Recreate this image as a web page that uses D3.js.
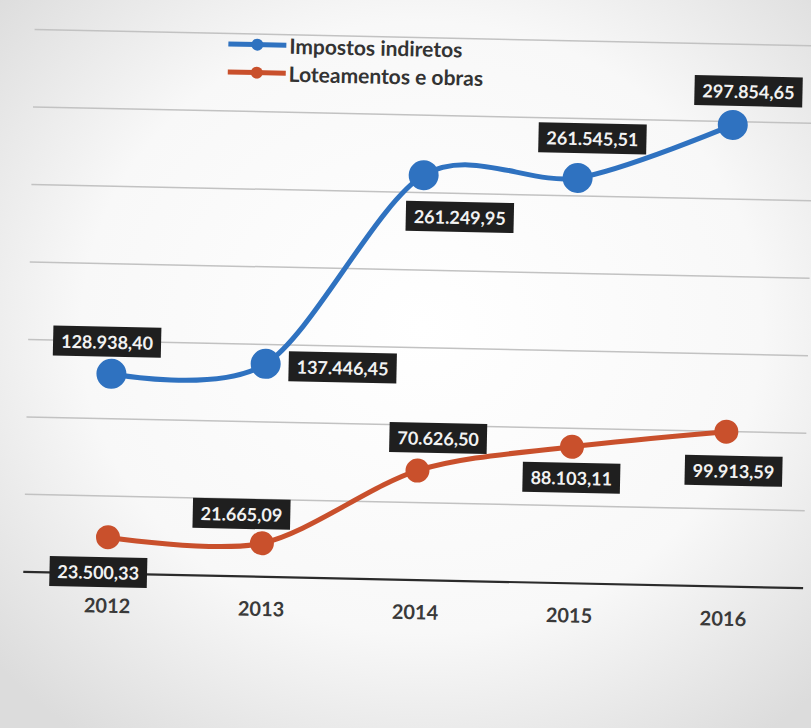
<!DOCTYPE html>
<html><head><meta charset="utf-8">
<script src="https://cdn.jsdelivr.net/npm/d3@7"></script>
<style>
html,body{margin:0;padding:0;background:#e4e4e4;}
svg{display:block;}
</style></head>
<body>
<svg id="chart" width="811" height="728"></svg>
<script>
// ---- data ----
const years = ["2012", "2013", "2014", "2015", "2016"];
const impostosIndiretos = [128938.40, 137446.45, 261249.95, 261545.51, 297854.65];
const loteamentosObras = [23500.33, 21665.09, 70626.50, 88103.11, 99913.59];
const seriesNames = ["Impostos indiretos", "Loteamentos e obras"];
const gridTicks = [0, 50000, 100000, 150000, 200000, 250000, 300000, 350000];

// ---- layout / style ----
const W = 811, H = 728;
const colors = ["#2f72c0", "#c9502c"];
const radii = [15, 12];
// label box offsets from each point [dx, dy]
const labelOffsets = [
  [[-5, -32], [77, 2], [37, 41], [14, -40], [15, -34]],
  [[-9, 35], [-21, -29], [20, -33], [0, 31], [8, 39]]
];

const fmt = v => {
  const s = v.toFixed(2).split(".");
  return s[0].replace(/\B(?=(\d{3})+(?!\d))/g, ".") + "," + s[1];
};

const svg = d3.select("#chart");
const defs = svg.append("defs");
const rg = defs.append("radialGradient").attr("id", "paper").attr("cx", "52%").attr("cy", "45%").attr("r", "70%");
rg.append("stop").attr("offset", "0%").attr("stop-color", "#ffffff");
rg.append("stop").attr("offset", "60%").attr("stop-color", "#f8f8f8");
rg.append("stop").attr("offset", "100%").attr("stop-color", "#dcdcdc");
svg.append("rect").attr("width", W).attr("height", H).attr("fill", "url(#paper)");

const g = svg.append("g").attr("transform", "rotate(1.2,415,350)");

const x = d3.scalePoint().domain(years).range([112, 728]);
const y = d3.scaleLinear().domain([0, 350000]).range([580, 37.5]);

// gridlines
g.append("g").selectAll("line").data(gridTicks.filter(t => t > 0)).join("line")
  .attr("x1", 28).attr("x2", 808)
  .attr("y1", d => y(d)).attr("y2", d => y(d))
  .attr("stroke", "#c2c2c2").attr("stroke-width", 1.5);

// x axis
const xAxis = g.append("g").attr("transform", `translate(0,${y(0)})`)
  .call(d3.axisBottom(x).tickSize(0).tickPadding(25));
xAxis.select(".domain").remove();
xAxis.append("line").attr("x1", 28).attr("x2", 808).attr("stroke", "#2b2b2b").attr("stroke-width", 2.2);
xAxis.selectAll("text").attr("font-family", "Lato, sans-serif").attr("font-size", 20)
  .attr("font-weight", 700).attr("fill", "#3a3a3a");

const allSeries = [impostosIndiretos, loteamentosObras];
const line = d3.line().x((d, i) => x(years[i])).y(d => y(d)).curve(d3.curveCardinal.tension(0.1));

allSeries.forEach((vals, s) => {
  g.append("path").attr("d", line(vals)).attr("fill", "none")
    .attr("stroke", colors[s]).attr("stroke-width", 5).attr("stroke-linecap", "round");
  g.append("g").selectAll("circle").data(vals).join("circle")
    .attr("cx", (d, i) => x(years[i])).attr("cy", d => y(d)).attr("r", radii[s])
    .attr("fill", colors[s]);
});

// data labels
allSeries.forEach((vals, s) => {
  vals.forEach((v, i) => {
    const cx = x(years[i]) + labelOffsets[s][i][0];
    const cy = y(v) + labelOffsets[s][i][1];
    const lg = g.append("g");
    const t = lg.append("text").attr("x", cx).attr("y", cy).attr("text-anchor", "middle")
      .attr("dominant-baseline", "central").attr("font-family", "Lato, sans-serif")
      .attr("font-size", 18).attr("font-weight", 700).attr("fill", "#f2f2f2").text(fmt(v));
    const bb = t.node().getBBox();
    lg.insert("rect", "text").attr("x", bb.x - 8).attr("y", cy - 15)
      .attr("width", bb.width + 16).attr("height", 30).attr("fill", "#1f1f1f");
  });
});

// legend
const leg = g.append("g");
seriesNames.forEach((name, s) => {
  const ly = 48 + s * 28;
  leg.append("line").attr("x1", 222).attr("x2", 280).attr("y1", ly).attr("y2", ly)
    .attr("stroke", colors[s]).attr("stroke-width", 5);
  leg.append("circle").attr("cx", 251).attr("cy", ly).attr("r", 6).attr("fill", colors[s]);
  leg.append("text").attr("x", 283).attr("y", ly).attr("dominant-baseline", "central")
    .attr("font-family", "Lato, sans-serif").attr("font-size", 21).attr("font-weight", 700)
    .attr("fill", "#333").text(name);
});
</script>
</body></html>
